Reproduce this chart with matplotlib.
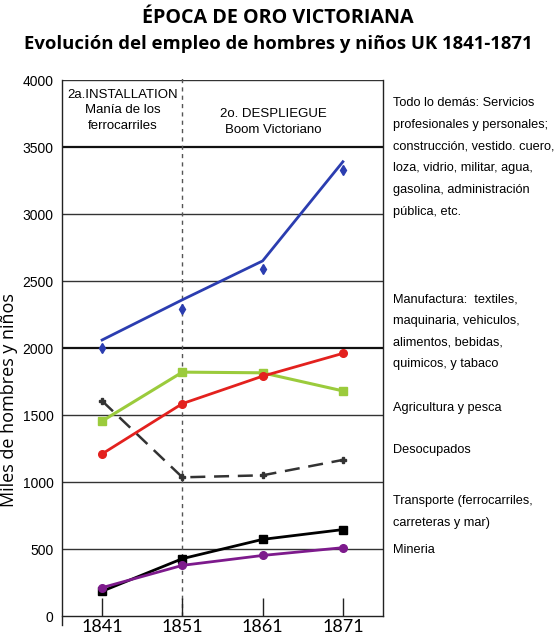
import numpy as np
import matplotlib.pyplot as plt
from matplotlib import font_manager

# censos 1841-1871, miles de hombres y niños
years = [1841, 1851, 1861, 1871]
otros_tend = [2060, 2360, 2650, 3390]
otros = [2000, 2290, 2590, 3330]
manufactura = [1210, 1585, 1790, 1960]
agricultura = [1455, 1820, 1815, 1680]
desocupados = [1605, 1035, 1050, 1165]
transporte = [185, 428, 572, 645]
mineria = [212, 378, 452, 510]

y_ticks = [0, 500, 1000, 1500, 2000, 2500, 3000, 3500, 4000]

names = {f.name for f in font_manager.fontManager.ttflist}
narrow = 'Liberation Sans Narrow' if 'Liberation Sans Narrow' in names else 'Liberation Sans'

fig = plt.figure(figsize=(5.56, 6.44), dpi=100)
ax = fig.add_axes([62/556, 1-625/644, 321/556, 545/644])

ax.set_xlim(1836, 1876)
ax.set_ylim(-67, 4000)

# líneas horizontales de la rejilla
for v in y_ticks[1:]:
    lw = 1.6 if v in (2000, 3500) else 1.0
    c = '#111111' if v in (2000, 3500) else '#333333'
    ax.axhline(v, color=c, lw=lw, zorder=1)
ax.axvline(1851, ymin=67/4067, ymax=1.01, color='#555555', lw=1, ls=(0, (3, 3)),
           zorder=1, clip_on=False)

ax.plot(years, otros_tend, color='#2b3db0', lw=2, zorder=3)
ax.plot(years, otros, ls='none', marker='d', ms=5, color='#2b3db0', zorder=3)
ax.plot(years, agricultura, color='#9bcb3c', lw=2.2, marker='s', ms=6, zorder=3)
ax.plot(years, manufactura, color='#e3211e', lw=2, marker='o', ms=5.5, zorder=4)
ax.plot(years, desocupados, color='#333333', lw=1.8, ls=(0, (6, 3.5)),
        marker='P', ms=5, zorder=3)
ax.plot(years, transporte, color='#000000', lw=2, marker='s', ms=5.5, zorder=3)
ax.plot(years, mineria, color='#7d1a8c', lw=2, marker='o', ms=5.5, zorder=4)

ax.spines['top'].set_visible(False)
ax.spines['bottom'].set_position(('data', 0))
ax.spines['right'].set_bounds(0, 4000)
for s in ['left', 'right', 'bottom']:
    ax.spines[s].set_color('#222222')
    ax.spines[s].set_linewidth(1.0)

ax.set_yticks(y_ticks)
ax.set_yticklabels([str(v) for v in y_ticks], family=narrow, fontsize=10)
ax.tick_params(axis='y', length=0, pad=6)
ax.set_xticks(years)
ax.set_xticklabels([str(y) for y in years], family='Lato', fontsize=13)
ax.tick_params(axis='x', direction='in', length=13, width=1, color='#222222', pad=2)

ax.set_ylabel('Miles de hombres y niños', family='Open Sans', fontsize=13)
ax.yaxis.set_label_coords(-0.137, 0.413)

ax.text(1843.6, 3935, '2a.INSTALLATION\nManía de los\nferrocarriles', ha='center', va='top',
        family=narrow, fontsize=9.5, linespacing=1.38)
ax.text(1862.3, 3790, '2o. DESPLIEGUE\nBoom Victoriano', ha='center', va='top',
        family=narrow, fontsize=9.5, linespacing=1.38)

fig.text(0.5, 1-18/644, 'ÉPOCA DE ORO VICTORIANA', ha='center', va='center',
         family='Open Sans', weight='bold', fontsize=14.2)
fig.text(0.5, 1-44/644, 'Evolución del empleo de hombres y niños UK 1841-1871', ha='center',
         va='center', family='Open Sans', weight='bold', fontsize=13.3)

notes = [
    (102, 'Todo lo demás: Servicios\nprofesionales y personales;\nconstrucción, vestido. cuero,\n'
          'loza, vidrio, militar, agua,\ngasolina, administración\npública, etc.'),
    (298, 'Manufactura:  textiles,\nmaquinaria, vehiculos,\nalimentos, bebidas,\nquimicos, y tabaco'),
    (407, 'Agricultura y pesca'),
    (449, 'Desocupados'),
    (500, 'Transporte (ferrocarriles,\ncarreteras y mar)'),
    (549, 'Mineria'),
]
for ypix, txt in notes:
    fig.text(393/556, 1-(ypix-5)/644, txt, ha='left', va='top', family=narrow,
             fontsize=9.2, linespacing=2.08)

fig.savefig('out.png', dpi=100)
